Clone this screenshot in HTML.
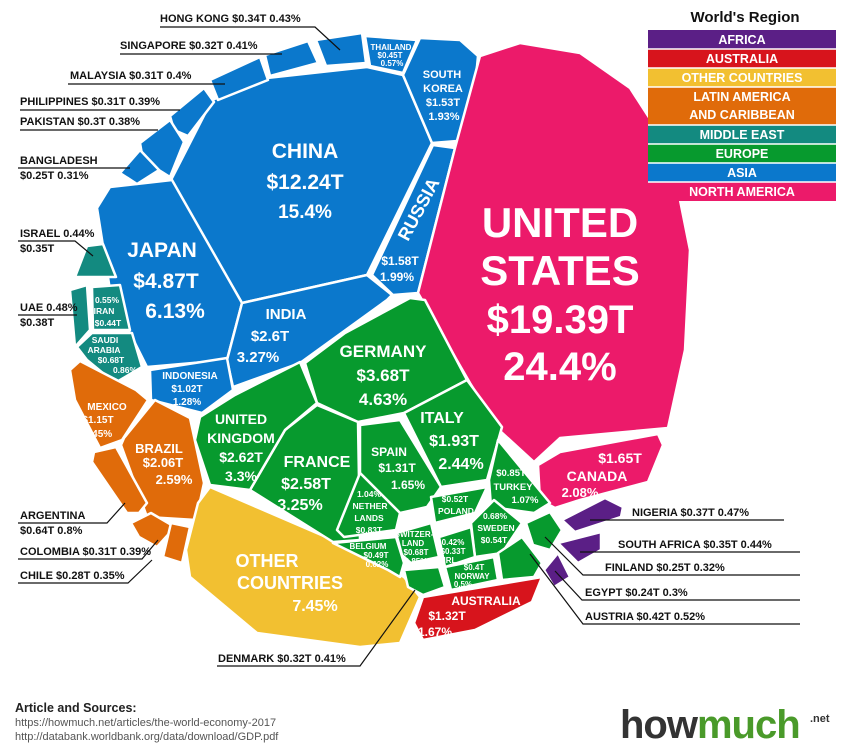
<!DOCTYPE html>
<html><head><meta charset="utf-8"><style>
body{margin:0;background:#fff;width:850px;height:751px;overflow:hidden}
svg{display:block}
text{font-family:"Liberation Sans",sans-serif;font-weight:bold}
.w{fill:#fff;text-anchor:middle}
.l{fill:#111;font-size:11px}
.c polygon{stroke:#fff;stroke-width:2.5;stroke-linejoin:round}
</style></head><body>
<svg width="850" height="751" viewBox="0 0 850 751">
<g class="c">
<!-- Asia -->
<g fill="#0b78cc">
<polygon points="171,180 212,100 267,78 367,67 403,75 432,143 367,275 242,303"/>
<polygon points="403,75 420,38 460,40 478,56 470,140 432,143"/>
<polygon points="433,145 455,148 418,293 393,295 372,275"/>
<polygon points="97,208 110,187 172,180 242,303 227,360 147,367 130,333 110,290"/>
<polygon points="242,303 367,275 392,295 387,300 300,363 233,387 227,360"/>
<polygon points="150,370 227,358 233,390 202,413 151,400"/>
<polygon points="316,40 362,33 366,63 326,66"/>
<polygon points="365,36 417,40 403,73 370,66" />
<polygon points="265,55 308,41 318,63 270,76"/>
<polygon points="210,80 260,57 268,80 218,100"/>
<polygon points="170,116 204,88 214,102 188,136 174,130"/>
<polygon points="140,143 170,120 184,142 170,177 143,160"/>
<polygon points="120,173 140,150 159,170 137,184"/>
</g>
<!-- North America -->
<g fill="#ec1a6a">
<polygon points="418,293 455,148 480,56 520,43 580,53 630,88 670,150 690,250 685,350 668,428 560,438 534,462 499,430 470,383"/>
<polygon points="538,465 560,452 658,434 663,445 648,482 580,500 555,508 540,500"/>
</g>
<!-- Middle East -->
<g fill="#138a80">
<polygon points="75,277 87,246 103,244 116,277"/>
<polygon points="92,287 120,285 130,330 93,330"/>
<polygon points="70,290 87,285 90,330 75,347"/>
<polygon points="77,347 92,333 132,333 142,367 115,383 87,360"/>
</g>
<!-- Latin America -->
<g fill="#e06b0a">
<polygon points="70,370 80,361 136,390 148,400 122,440 100,448 75,400"/>
<polygon points="124,438 155,400 190,418 204,483 196,520 147,517 121,445"/>
<polygon points="94,452 116,447 147,503 139,513 127,513 92,462"/>
<polygon points="131,523 151,513 175,527 157,547 139,537"/>
<polygon points="171,523 190,527 182,563 163,557"/>
</g>
<!-- Other -->
<polygon fill="#f2c031" points="210,487 333,540 404,577 420,597 400,643 360,647 257,633 190,577 186,550 198,503"/>
<!-- Australia -->
<polygon fill="#d7141c" points="423,597 542,577 532,602 475,630 423,640 414,623"/>
<!-- Europe -->
<g fill="#079a2e">
<polygon points="305,363 345,333 410,298 425,300 467,380 404,413 358,422 317,403"/>
<polygon points="404,413 467,380 502,427 487,480 441,487"/>
<polygon points="498,440 550,503 534,513 491,507 489,480"/>
<polygon points="317,405 358,422 360,540 333,542 250,490 285,430"/>
<polygon points="200,417 235,395 300,362 317,403 285,430 250,490 210,485 195,440"/>
<polygon points="360,425 400,420 441,487 427,507 400,513 360,473"/>
<polygon points="360,473 400,513 396,530 344,537 337,530"/>
<polygon points="431,497 487,487 475,513 435,523"/>
<polygon points="471,523 494,500 522,523 502,553 475,557"/>
<polygon points="526,523 550,512 562,530 550,550 533,545"/>
<polygon points="396,533 431,523 439,557 411,563 402,555"/>
<polygon points="439,537 471,527 475,557 445,567"/>
<polygon points="333,543 396,537 404,563 400,577 388,570"/>
<polygon points="404,570 439,567 445,587 423,595 408,587"/>
<polygon points="445,567 494,557 498,580 451,590"/>
<polygon points="498,553 522,537 542,563 534,577 502,580"/>
</g>
<!-- Africa -->
<g fill="#5b1f86">
<polygon points="562,520 605,498 623,507 621,517 575,532"/>
<polygon points="558,543 601,532 601,550 578,563"/>
<polygon points="544,570 558,553 570,577 554,587"/>
</g>
</g>

<!-- inner labels -->
<text class="w" x="305" y="158" font-size="21">CHINA</text>
<text class="w" x="305" y="189" font-size="21">$12.24T</text>
<text class="w" x="305" y="218" font-size="19">15.4%</text>
<text class="w" x="560" y="237" font-size="42">UNITED</text>
<text class="w" x="560" y="285" font-size="42">STATES</text>
<text class="w" x="560" y="333" font-size="40">$19.39T</text>
<text class="w" x="560" y="380" font-size="40">24.4%</text>
<text class="w" x="162" y="257" font-size="21">JAPAN</text>
<text class="w" x="166" y="288" font-size="21">$4.87T</text>
<text class="w" x="175" y="318" font-size="21">6.13%</text>
<text class="w" x="286" y="319" font-size="15">INDIA</text>
<text class="w" x="270" y="341" font-size="15">$2.6T</text>
<text class="w" x="258" y="362" font-size="15">3.27%</text>
<text class="w" x="442" y="78" font-size="11">SOUTH</text>
<text class="w" x="443" y="92" font-size="11">KOREA</text>
<text class="w" x="443" y="106" font-size="11">$1.53T</text>
<text class="w" x="444" y="120" font-size="11">1.93%</text>
<text class="w" x="391" y="50" font-size="8">THAILAND</text>
<text class="w" x="390" y="58" font-size="8">$0.45T</text>
<text class="w" x="392" y="66" font-size="8">0.57%</text>
<text class="w" font-size="18" transform="translate(424,212) rotate(-62)">RUSSIA</text>
<text class="w" x="400" y="265" font-size="12">$1.58T</text>
<text class="w" x="397" y="281" font-size="12">1.99%</text>
<text class="w" x="107" y="303" font-size="8.5">0.55%</text>
<text class="w" x="104" y="314" font-size="8.5">IRAN</text>
<text class="w" x="108" y="326" font-size="8.5">$0.44T</text>
<text class="w" x="105" y="343" font-size="8.5">SAUDI</text>
<text class="w" x="104" y="353" font-size="8.5">ARABIA</text>
<text class="w" x="111" y="363" font-size="8.5">$0.68T</text>
<text class="w" x="125" y="373" font-size="8.5">0.86%</text>
<text class="w" x="190" y="379" font-size="10">INDONESIA</text>
<text class="w" x="187" y="392" font-size="10">$1.02T</text>
<text class="w" x="187" y="405" font-size="10">1.28%</text>
<text class="w" x="107" y="410" font-size="10">MEXICO</text>
<text class="w" x="98" y="423" font-size="10">$1.15T</text>
<text class="w" x="98" y="437" font-size="10">1.45%</text>
<text class="w" x="159" y="453" font-size="13">BRAZIL</text>
<text class="w" x="163" y="467" font-size="13">$2.06T</text>
<text class="w" x="174" y="484" font-size="13">2.59%</text>
<text class="w" x="383" y="357" font-size="17">GERMANY</text>
<text class="w" x="383" y="381" font-size="17">$3.68T</text>
<text class="w" x="383" y="405" font-size="17">4.63%</text>
<text class="w" x="241" y="424" font-size="14">UNITED</text>
<text class="w" x="241" y="443" font-size="14">KINGDOM</text>
<text class="w" x="241" y="462" font-size="14">$2.62T</text>
<text class="w" x="241" y="481" font-size="14">3.3%</text>
<text class="w" x="317" y="467" font-size="16">FRANCE</text>
<text class="w" x="306" y="489" font-size="16">$2.58T</text>
<text class="w" x="300" y="510" font-size="16">3.25%</text>
<text class="w" x="442" y="423" font-size="16">ITALY</text>
<text class="w" x="454" y="446" font-size="16">$1.93T</text>
<text class="w" x="461" y="469" font-size="16">2.44%</text>
<text class="w" x="389" y="456" font-size="12">SPAIN</text>
<text class="w" x="397" y="472" font-size="12">$1.31T</text>
<text class="w" x="408" y="489" font-size="12">1.65%</text>
<text class="w" x="369" y="497" font-size="8.5">1.04%</text>
<text class="w" x="370" y="509" font-size="8.5">NETHER</text>
<text class="w" x="369" y="521" font-size="8.5">LANDS</text>
<text class="w" x="369" y="533" font-size="8.5">$0.83T</text>
<text class="w" x="455" y="502" font-size="8.5">$0.52T</text>
<text class="w" x="456" y="514" font-size="8.5">POLAND</text>
<text class="w" x="455" y="526" font-size="8.5">0.66%</text>
<text class="w" x="511" y="476" font-size="9.5">$0.85T</text>
<text class="w" x="513" y="490" font-size="9.5">TURKEY</text>
<text class="w" x="525" y="503" font-size="9.5">1.07%</text>
<text class="w" x="495" y="519" font-size="8.5">0.68%</text>
<text class="w" x="496" y="531" font-size="8.5">SWEDEN</text>
<text class="w" x="494" y="543" font-size="8.5">$0.54T</text>
<text class="w" x="414" y="537" font-size="8">SWITZER-</text>
<text class="w" x="413" y="546" font-size="8">LAND</text>
<text class="w" x="416" y="555" font-size="8">$0.68T</text>
<text class="w" x="416" y="564" font-size="8">0.85%</text>
<text class="w" x="368" y="549" font-size="8">BELGIUM</text>
<text class="w" x="376" y="558" font-size="8">$0.49T</text>
<text class="w" x="377" y="567" font-size="8">0.62%</text>
<text class="w" x="453" y="545" font-size="8">0.42%</text>
<text class="w" x="453" y="554" font-size="8">$0.33T</text>
<text class="w" x="450" y="563" font-size="8">IRL</text>
<text class="w" x="474" y="570" font-size="8">$0.4T</text>
<text class="w" x="472" y="579" font-size="8">NORWAY</text>
<text class="w" x="463" y="587" font-size="8">0.5%</text>
<text class="w" x="267" y="567" font-size="18">OTHER</text>
<text class="w" x="290" y="589" font-size="18">COUNTRIES</text>
<text class="w" x="315" y="611" font-size="16">7.45%</text>
<text class="w" x="486" y="605" font-size="12">AUSTRALIA</text>
<text class="w" x="447" y="620" font-size="12">$1.32T</text>
<text class="w" x="435" y="636" font-size="12">1.67%</text>
<text class="w" x="620" y="463" font-size="14">$1.65T</text>
<text class="w" x="597" y="481" font-size="14">CANADA</text>
<text class="w" x="580" y="497" font-size="13">2.08%</text>

<!-- outer labels -->
<g stroke="#111" stroke-width="1.2" fill="none">
<polyline points="160,27 315,27 340,50"/>
<line x1="120" y1="54" x2="282" y2="54"/>
<line x1="68" y1="84" x2="225" y2="84"/>
<line x1="20" y1="110" x2="180" y2="110"/>
<line x1="20" y1="130" x2="158" y2="130"/>
<line x1="18" y1="168" x2="130" y2="168"/>
<polyline points="18,241 75,241 93,256"/>
<line x1="18" y1="315" x2="77" y2="315"/>
<polyline points="18,523 107,523 125,503"/>
<polyline points="18,559 142,559 158,540"/>
<polyline points="18,583 128,583 152,560"/>
<polyline points="217,666 360,666 415,590"/>
<line x1="590" y1="520" x2="784" y2="520"/>
<line x1="580" y1="552" x2="800" y2="552"/>
<polyline points="545,537 583,575 800,575"/>
<polyline points="555,571 582,600 800,600"/>
<polyline points="530,554 583,624 800,624"/>
</g>
<text class="l" x="160" y="22">HONG KONG  $0.34T  0.43%</text>
<text class="l" x="120" y="49">SINGAPORE $0.32T  0.41%</text>
<text class="l" x="70" y="79">MALAYSIA  $0.31T   0.4%</text>
<text class="l" x="20" y="105">PHILIPPINES $0.31T  0.39%</text>
<text class="l" x="20" y="125">PAKISTAN  $0.3T  0.38%</text>
<text class="l" x="20" y="164">BANGLADESH</text>
<text class="l" x="20" y="179">$0.25T  0.31%</text>
<text class="l" x="20" y="237">ISRAEL 0.44%</text>
<text class="l" x="20" y="252">$0.35T</text>
<text class="l" x="20" y="311">UAE  0.48%</text>
<text class="l" x="20" y="326">$0.38T</text>
<text class="l" x="20" y="519">ARGENTINA</text>
<text class="l" x="20" y="534">$0.64T  0.8%</text>
<text class="l" x="20" y="555">COLOMBIA $0.31T  0.39%</text>
<text class="l" x="20" y="579">CHILE  $0.28T  0.35%</text>
<text class="l" x="218" y="662">DENMARK $0.32T  0.41%</text>
<text class="l" x="632" y="516" font-size="12">NIGERIA  $0.37T  0.47%</text>
<text class="l" x="618" y="548" font-size="12">SOUTH AFRICA  $0.35T  0.44%</text>
<text class="l" x="605" y="571" font-size="12">FINLAND  $0.25T  0.32%</text>
<text class="l" x="585" y="596" font-size="12">EGYPT $0.24T  0.3%</text>
<text class="l" x="585" y="620" font-size="12">AUSTRIA $0.42T  0.52%</text>

<!-- legend -->
<text x="745" y="22" font-size="15" fill="#111" text-anchor="middle">World's Region</text>
<rect x="648" y="30" width="188" height="19" fill="#5b1f86"/>
<rect x="648" y="49" width="188" height="19" fill="#d7141c"/>
<rect x="648" y="68" width="188" height="19" fill="#f2c031"/>
<rect x="648" y="87" width="188" height="38" fill="#e06b0a"/>
<rect x="648" y="125" width="188" height="19" fill="#138a80"/>
<rect x="648" y="144" width="188" height="19" fill="#079a2e"/>
<rect x="648" y="163" width="188" height="19" fill="#0b78cc"/>
<rect x="648" y="182" width="188" height="19" fill="#ec1a6a"/>
<g stroke="#fff" stroke-width="1.5"><line x1="648" y1="49" x2="836" y2="49"/><line x1="648" y1="68" x2="836" y2="68"/><line x1="648" y1="87" x2="836" y2="87"/><line x1="648" y1="125" x2="836" y2="125"/><line x1="648" y1="144" x2="836" y2="144"/><line x1="648" y1="163" x2="836" y2="163"/><line x1="648" y1="182" x2="836" y2="182"/></g>
<g font-size="12.5"><text class="w" x="742" y="44">AFRICA</text>
<text class="w" x="742" y="63">AUSTRALIA</text>
<text class="w" x="742" y="82">OTHER COUNTRIES</text>
<text class="w" x="742" y="101">LATIN AMERICA</text>
<text class="w" x="742" y="119">AND CARIBBEAN</text>
<text class="w" x="742" y="139">MIDDLE EAST</text>
<text class="w" x="742" y="158">EUROPE</text>
<text class="w" x="742" y="177">ASIA</text>
<text class="w" x="742" y="196">NORTH AMERICA</text></g>

<!-- footer -->
<text x="15" y="712" font-size="12.5" fill="#222">Article and Sources:</text>
<text x="15" y="726" font-size="11" fill="#555" style="font-weight:normal">https://howmuch.net/articles/the-world-economy-2017</text>
<text x="15" y="740" font-size="11" fill="#555" style="font-weight:normal">http://databank.worldbank.org/data/download/GDP.pdf</text>
<text x="620" y="738" font-size="40" fill="#333" letter-spacing="-1">how<tspan fill="#4a9a2a">much</tspan></text>
<text x="810" y="722" font-size="11" fill="#333">.net</text>
</svg>
</body></html>
